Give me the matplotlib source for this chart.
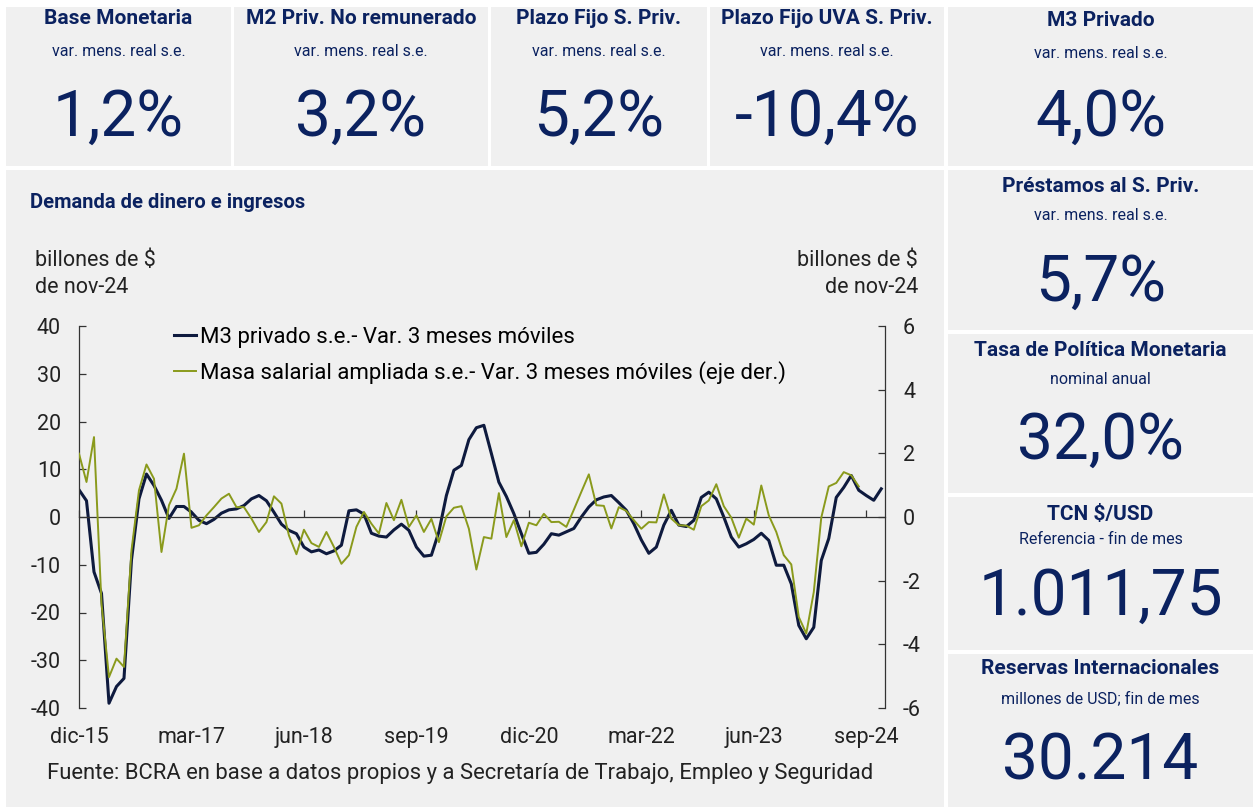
"""
Tablero monetario: tarjetas con indicadores y grafico de demanda de dinero.
"""
import numpy as np
import matplotlib
matplotlib.use('Agg')
import matplotlib.pyplot as plt
from matplotlib.patches import Rectangle

plt.rcParams['font.family'] = ['Roboto', 'DejaVu Sans']
plt.rcParams['axes.unicode_minus'] = False

W, H = 1253, 807
NAVY = '#0B2260'
TILE = '#F0F0F0'

# --- datos ---
# M3 privado s.e. - var. 3 meses moviles (eje izq.), dic-15 a nov-24
m3 = [5.7, 3.4, -11.5, -16.0, -39.0, -35.5, -33.8, -9.0, 3.8, 9.0, 6.6, 3.5, -0.3, 2.2, 2.2, 1.0, -0.7, -1.4,
      -0.5, 0.8, 1.5, 1.7, 2.4, 3.8, 4.5, 3.4, 1.0, -1.5, -2.8, -3.5, -6.3, -7.3, -6.9, -7.7, -7.1, -5.9,
      1.3, 1.5, 0.6, -3.4, -4.0, -4.2, -2.7, -1.5, -2.8, -6.3, -8.2, -8.0, -3.1, 4.5, 9.8, 10.8, 16.2, 18.7,
      19.2, 13.3, 7.3, 4.3, 0.7, -3.5, -7.6, -7.4, -5.7, -3.5, -3.8, -3.1, -2.4, 0.0, 2.1, 3.6, 4.2, 4.5,
      3.0, 1.4, -1.4, -4.8, -7.6, -6.3, -1.7, 1.4, -1.7, -2.0, -0.7, 4.1, 5.2, 3.8, 0.0, -4.2, -6.3, -5.6,
      -4.7, -3.4, -4.9, -10.1, -10.1, -14.0, -22.7, -25.5, -23.1, -9.1, -4.5, 4.1, 6.2, 8.7, 5.6, 4.5, 3.5, 5.9]

# Masa salarial ampliada s.e. - var. 3 meses moviles (eje der.), dic-15 a ago-24
masa = [1.99, 1.1, 2.51, -2.72, -5.03, -4.45, -4.71, -1.05, 0.84, 1.65, 1.2, -1.1, 0.37, 0.89, 1.99, -0.34, -0.26, 0.05,
        0.31, 0.58, 0.73, 0.31, 0.31, -0.05, -0.47, -0.16, 0.65, 0.42, -0.58, -1.17, -0.4, -0.82, -0.94, -0.47, -0.94, -1.47,
        -1.2, -0.31, 0.16, -0.21, -0.52, 0.44, -0.1, 0.54, -0.31, 0.05, -0.47, -0.06, -0.79, 0.02, 0.29, 0.34, -0.37, -1.65,
        -0.63, -0.68, 0.75, -0.63, -0.1, -0.92, -0.18, -0.26, 0.1, -0.16, -0.15, -0.31, 0.23, 0.79, 1.34, 0.37, 0.35, -0.36,
        0.31, 0.19, -0.1, -0.37, -0.16, -0.17, 0.71, -0.05, -0.26, -0.27, -0.4, 0.34, 0.52, 1.03, 0.34, -0.02, -0.65, -0.05,
        -0.24, 0.99, 0.05, -0.47, -1.2, -1.49, -3.14, -3.66, -2.36, -0.02, 0.96, 1.07, 1.41, 1.31, 0.96]

xtick_pos = [0, 15, 30, 45, 60, 75, 90, 105]
xtick_labels = ['dic-15', 'mar-17', 'jun-18', 'sep-19', 'dic-20', 'mar-22', 'jun-23', 'sep-24']

# tarjetas: titulo, subtitulo, valor
card_titles = ['Base Monetaria', 'M2 Priv. No remunerado', 'Plazo Fijo S. Priv.', 'Plazo Fijo UVA S. Priv.',
               'M3 Privado', 'Préstamos al S. Priv.', 'Tasa de Política Monetaria', 'TCN $/USD',
               'Reservas Internacionales']
card_subs = ['var. mens. real s.e.'] * 6 + ['nominal anual', 'Referencia - fin de mes',
                                            'millones de USD; fin de mes']
card_values = ['1,2%', '3,2%', '5,2%', '-10,4%', '4,0%', '5,7%', '32,0%', '1.011,75', '30.214']

# cajas en pixeles (x0, y0, x1, y1) y posiciones y del texto (titulo, sub, valor)
card_boxes = [(6, 7, 231, 166), (234, 7, 488, 166), (491, 7, 707, 166), (710, 7, 944, 166),
              (948, 7, 1253, 166), (948, 170, 1253, 330), (948, 334, 1253, 493),
              (948, 497, 1253, 650), (948, 654, 1253, 807)]
card_text_y = [(18, 52, 118), (18, 52, 118), (18, 52, 118), (18, 52, 118),
               (21, 53, 118), (187, 216, 283), (350, 379, 441), (514, 540, 597), (669, 699, 762)]


def fx(x):
    return x / W


def fy(y):
    return 1 - y / H


fig = plt.figure(figsize=(W / 100, H / 100), dpi=100, facecolor='white')

# paneles de fondo
for (x0, y0, x1, y1) in card_boxes + [(6, 170, 944, 807)]:
    fig.add_artist(Rectangle((fx(x0), fy(y1)), fx(x1 - x0), (y1 - y0) / H,
                             transform=fig.transFigure, facecolor=TILE, edgecolor='none', zorder=-5))

for (x0, y0, x1, y1), (ty, sy, vy), t, s, v in zip(card_boxes, card_text_y, card_titles, card_subs, card_values):
    cx = fx((x0 + x1) / 2)
    fig.text(cx, fy(ty), t, ha='center', va='center', fontsize=15, fontweight='bold', color=NAVY)
    fig.text(cx, fy(sy), s, ha='center', va='center', fontsize=11.5, color=NAVY)
    fig.text(cx, fy(vy), v, ha='center', va='center', fontsize=46, color=NAVY)

# --- grafico principal ---
FS = 15.5
ax = fig.add_axes([fx(79), fy(708), fx(885 - 79), (708 - 326) / H])
ax.set_facecolor('none')
ax2 = ax.twinx()

x_m3 = np.arange(len(m3))
x_masa = np.arange(len(masa))
l1, = ax.plot(x_m3, m3, color='#0E1A3E', lw=2.2, label='M3 privado s.e.- Var. 3 meses móviles')
l2, = ax2.plot(x_masa, masa, color='#8A9A1C', lw=1.4,
               label='Masa salarial ampliada s.e.- Var. 3 meses móviles (eje der.)')

ax.set_xlim(0, 107.5)
ax.set_ylim(-40, 40)
ax2.set_ylim(-6, 6)
ax.set_yticks(np.arange(-40, 41, 10))
ax2.set_yticks(np.arange(-6, 7, 2))

for a in (ax, ax2):
    a.spines['top'].set_visible(False)
    for sp in a.spines.values():
        sp.set_color('#333333')
        sp.set_linewidth(0.9)
ax2.spines['bottom'].set_visible(False)
ax2.spines['left'].set_visible(False)
ax.spines['right'].set_visible(False)
ax.spines['bottom'].set_position(('data', 0))

ax.tick_params(axis='y', direction='in', length=5, width=0.9, color='#333333', labelsize=FS, pad=13,
               labelcolor='#222222')
ax2.tick_params(axis='y', direction='in', length=5, width=0.9, color='#333333', labelsize=FS, pad=13,
                labelcolor='#222222')
ax.set_xticks(xtick_pos)
ax.tick_params(axis='x', direction='in', length=5, width=0.9, color='#333333', labelbottom=False)

sec = ax.secondary_xaxis(0.0)
sec.set_xticks(xtick_pos, xtick_labels)
sec.tick_params(length=0, labelsize=FS, pad=14, labelcolor='#222222')
sec.spines['bottom'].set_visible(False)

ax2.legend(handles=[l1, l2], loc='upper left', bbox_to_anchor=(0.118, 0.997), frameon=False,
           fontsize=16, handlelength=1.0, handletextpad=0.15, labelspacing=0.58, borderpad=0,
           borderaxespad=0)

# textos del panel
fig.text(fx(30), fy(203), 'Demanda de dinero e ingresos', ha='left', va='center', fontsize=14.5,
         fontweight='bold', color=NAVY)
fig.text(fx(35), fy(274), 'billones de $\nde nov-24', ha='left', va='center', fontsize=FS,
         color='#222222', linespacing=1.4)
fig.text(fx(918), fy(274), 'billones de $\nde nov-24', ha='right', va='center', fontsize=FS,
         color='#222222', linespacing=1.4, multialignment='right')
fig.text(fx(47), fy(773), 'Fuente: BCRA en base a datos propios y a Secretaría de Trabajo, Empleo y Seguridad',
         ha='left', va='center', fontsize=15.8, color='#222222')

fig.savefig('out.png', dpi=100, facecolor='white')
